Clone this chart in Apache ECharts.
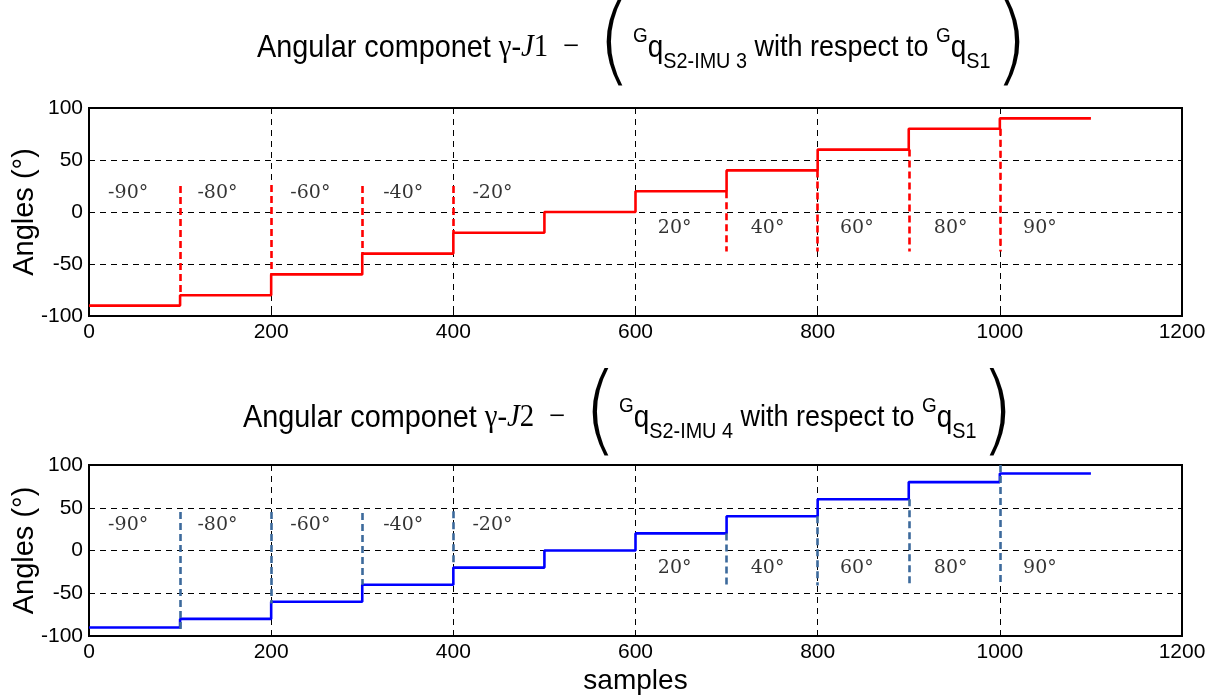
<!DOCTYPE html>
<html>
<head>
<meta charset="utf-8">
<title>Angular componet</title>
<script src="https://cdn.jsdelivr.net/npm/echarts@6/dist/echarts.min.js"></script>
<style>
  html, body { margin: 0; padding: 0; background: #fff; }
  #main { width: 1216px; height: 696px; }
</style>
</head>
<body>
<div id="main"></div>
<script>
// step data (samples / angle in degrees)
var stepX = [0, 100, 200, 300, 400, 500, 600, 700, 800, 900, 1000, 1100];
var j1Angles = [-90, -80, -60, -40, -20, 0, 20, 40, 60, 80, 90, 90];
var j2Angles = [-90, -80, -60, -40, -20, 0, 20, 40, 60, 80, 90, 90];

// dashed marker lines at the transitions
var markX = [100, 200, 300, 400, 700, 800, 900, 1000];
var j1MarkTop = [25, 26, 25, 25, 20, 40, 60, 80];
var j1MarkBottom = [-80, -60, -40, -20, -38, -38, -38, -38];
var j2MarkTop = [45, 45, 44, 46, 20, 40, 60, 100];
var j2MarkBottom = [-95, -62, -40, -18, -41, -41, -42, -41];

// angle labels in each segment
var labelText = ['-90°', '-80°', '-60°', '-40°', '-20°', '20°', '40°', '60°', '80°', '90°'];
var labelX = [43, 141, 243, 345, 443, 643, 745, 843, 946, 1044];
var j1LabelY = [18, 18, 18, 18, 18, -15, -15, -15, -15, -15];
var j2LabelY = [30, 30, 30, 30, 30, -21, -21, -21, -21, -21];

function zip(xs, ys) {
  return xs.map(function (x, i) { return [x, ys[i]]; });
}

function markLines(xs, tops, bottoms) {
  return xs.map(function (x, i) {
    return [{ coord: [x, tops[i]] }, { coord: [x, bottoms[i]] }];
  });
}

function labelData(ys) {
  return labelX.map(function (x, i) {
    return { value: [x, ys[i]], name: labelText[i] };
  });
}

var sans = 'Liberation Sans, Arial, sans-serif';
var titleRich = {
  a: { fontFamily: sans, fontSize: 32, fill: '#000', verticalAlign: 'middle' },
  b: { fontFamily: sans, fontSize: 30, fill: '#000', verticalAlign: 'middle' },
  m: { fontFamily: 'Liberation Serif', fontSize: 32, fill: '#000', verticalAlign: 'middle' },
  mi: { fontFamily: 'Liberation Serif', fontStyle: 'italic', fontSize: 32, fill: '#000', verticalAlign: 'middle' },
  p: { fontFamily: 'DejaVu Sans', fontWeight: 200, fontSize: 98, fill: '#000', verticalAlign: 'middle', lineHeight: 100, padding: [0, 2, 0, 4] },
  sup: { fontFamily: sans, fontSize: 21, fill: '#000', verticalAlign: 'middle', padding: [0, 0, 24, 0] },
  q: { fontFamily: sans, fontSize: 31, fill: '#000', verticalAlign: 'middle' },
  sub: { fontFamily: sans, fontSize: 22, fill: '#000', verticalAlign: 'middle', padding: [28, 0, 0, 0] }
};

function titleText(j, imu) {
  return '{a|Angular componet }{m|γ-}{mi|J}{m|' + j + '  −  }{p|(}{sup|G}{q|q}{sub|S2-IMU ' + imu + '}{b| with respect to }{sup|G}{q|q}{sub|S1}{p|)}';
}

var axisFont = { fontFamily: sans, fontSize: 21, color: '#000' };

function xAxis(idx, name) {
  return {
    type: 'value', gridIndex: idx, min: 0, max: 1200, interval: 200,
    name: name, nameLocation: 'middle', nameGap: 31,
    nameTextStyle: { fontFamily: sans, fontSize: 28, color: '#000' },
    axisLine: { show: true, onZero: false, lineStyle: { color: '#000', width: 2 } },
    axisTick: { show: true, inside: true, length: 5, lineStyle: { color: '#000' } },
    axisLabel: Object.assign({ margin: 6, formatter: function (v) { return String(v); } }, axisFont),
    splitLine: { show: true, lineStyle: { color: '#000', width: 1, type: [6, 5] } }
  };
}

function yAxis(idx) {
  return {
    type: 'value', gridIndex: idx, min: -100, max: 100, interval: 50,
    name: 'Angles (°)', nameLocation: 'middle', nameGap: 50, nameMoveOverlap: false,
    nameTextStyle: { fontFamily: sans, fontSize: 29, color: '#000' },
    axisLine: { show: true, onZero: false, lineStyle: { color: '#000', width: 2 } },
    axisTick: { show: true, inside: true, length: 5, lineStyle: { color: '#000' } },
    axisLabel: Object.assign({ margin: 6 }, axisFont),
    splitLine: { show: true, lineStyle: { color: '#000', width: 1, type: [6, 5] } }
  };
}

function stepSeries(idx, data, color, mTop, mBottom, markColor) {
  return {
    type: 'line', xAxisIndex: idx, yAxisIndex: idx, step: 'end',
    data: zip(stepX, data), showSymbol: false, silent: true, animation: false,
    lineStyle: { color: color, width: 2.6 },
    markLine: {
      silent: true, symbol: 'none', animation: false, label: { show: false },
      lineStyle: { color: markColor, width: 2.6, type: [7, 4] },
      data: markLines(markX, mTop, mBottom)
    }
  };
}

function labelSeries(idx, ys) {
  return {
    type: 'scatter', xAxisIndex: idx, yAxisIndex: idx, symbolSize: 0, silent: true, animation: false,
    data: labelData(ys),
    label: {
      show: true, position: 'inside', formatter: '{b}',
      fontFamily: 'DejaVu Serif', fontSize: 19, color: '#000'
    }
  };
}

var chart = echarts.init(document.getElementById('main'));
chart.setOption({
  animation: false,
  backgroundColor: '#fff',
  graphic: [
    { type: 'text', x: 257, y: 48, scaleX: 0.9, silent: true,
      style: { text: titleText(1, 3), rich: titleRich, align: 'left', verticalAlign: 'middle' } },
    { type: 'text', x: 243, y: 418, scaleX: 0.9, silent: true,
      style: { text: titleText(2, 4), rich: titleRich, align: 'left', verticalAlign: 'middle' } }
  ],
  grid: [
    { left: 89, top: 108, width: 1093, height: 208, show: true, borderColor: '#000', borderWidth: 2, outerBoundsMode: 'none', containLabel: false },
    { left: 89, top: 465, width: 1093, height: 171, show: true, borderColor: '#000', borderWidth: 2, outerBoundsMode: 'none', containLabel: false }
  ],
  xAxis: [xAxis(0, ''), xAxis(1, 'samples')],
  yAxis: [yAxis(0), yAxis(1)],
  series: [
    stepSeries(0, j1Angles, '#ff0000', j1MarkTop, j1MarkBottom, '#ff0000'),
    stepSeries(1, j2Angles, '#0000ff', j2MarkTop, j2MarkBottom, '#3c6a9c'),
    labelSeries(0, j1LabelY),
    labelSeries(1, j2LabelY)
  ]
});
</script>
</body>
</html>
